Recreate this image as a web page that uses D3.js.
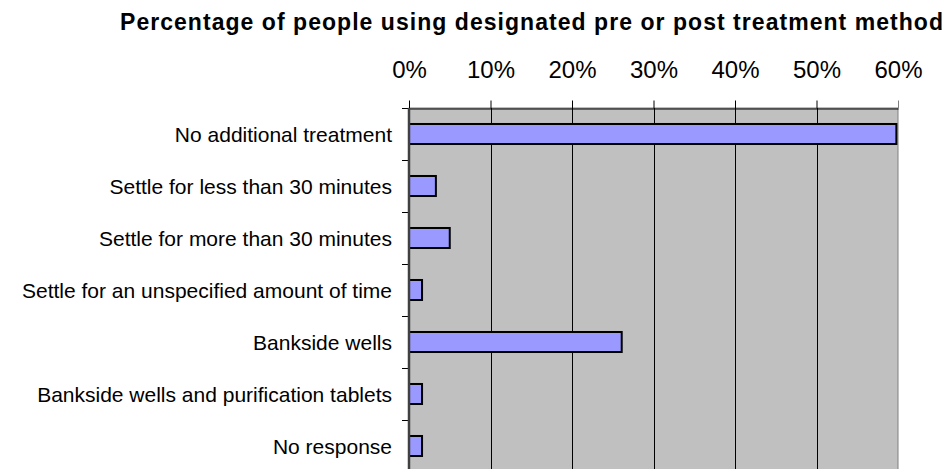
<!DOCTYPE html>
<html>
<head>
<meta charset="utf-8">
<script src="https://cdn.jsdelivr.net/npm/d3@7"></script>
<style>
  html, body { margin: 0; padding: 0; background: #ffffff; }
  svg { display: block; font-family: Arial, "Liberation Sans", sans-serif; }
</style>
</head>
<body>
<svg id="chart" width="946" height="469"></svg>
<script>
// Treatment methods and share of respondents (%)
const categories = [
  "No additional treatment",
  "Settle for less than 30 minutes",
  "Settle for more than 30 minutes",
  "Settle for an unspecified amount of time",
  "Bankside wells",
  "Bankside wells and purification tablets",
  "No response"
];
const percentages = [59.8, 3.3, 5.0, 1.6, 26.1, 1.6, 1.6];
const tickValues = [0, 10, 20, 30, 40, 50, 60];
const titleText = "Percentage of people using designated pre or post treatment method";

const svg = d3.select("#chart");

const plot = { left: 409, right: 898, top: 108, band: 52 };
const plotBottom = plot.top + plot.band * categories.length;

const x = d3.scaleLinear().domain([0, 60]).range([plot.left, plot.right]);
const y = d3.scaleBand()
  .domain(categories)
  .range([plot.top, plotBottom])
  .paddingInner(0.615)
  .paddingOuter(0.3075);

// Title
svg.append("text")
  .attr("x", 120)
  .attr("y", 29.5)
  .attr("font-size", 23)
  .attr("font-weight", "bold")
  .attr("textLength", 823)
  .attr("lengthAdjust", "spacing")
  .attr("fill", "#000")
  .text(titleText);

// Plot background
svg.append("rect")
  .attr("x", plot.left)
  .attr("y", plot.top)
  .attr("width", plot.right - plot.left)
  .attr("height", plotBottom - plot.top)
  .attr("fill", "#c0c0c0")
  .attr("stroke", "#808080")
  .attr("stroke-width", 1);

// Vertical gridlines
svg.append("g")
  .selectAll("line")
  .data(tickValues.filter(d => d > 0 && d < 60))
  .join("line")
  .attr("x1", d => Math.round(x(d)) + 0.5)
  .attr("x2", d => Math.round(x(d)) + 0.5)
  .attr("y1", plot.top)
  .attr("y2", plotBottom)
  .attr("stroke", "#000")
  .attr("stroke-width", 1);

// Top value axis
const xAxis = d3.axisTop(x)
  .tickValues(tickValues)
  .tickFormat(d => d + "%")
  .tickSizeInner(8)
  .tickSizeOuter(0)
  .tickPadding(23);

const gx = svg.append("g")
  .attr("transform", `translate(0,${plot.top + 0.5})`)
  .call(xAxis);
gx.select(".domain").attr("stroke", "#000").attr("stroke-width", 1);
gx.selectAll(".tick line").attr("stroke", "#000");
gx.selectAll(".tick").filter(d => d === 60).select("line").attr("stroke", "#808080");
gx.selectAll(".tick text")
  .attr("font-size", 24)
  .attr("fill", "#000")
  .attr("font-family", "Arial, 'Liberation Sans', sans-serif");

// Left category axis: tick marks on band boundaries
const boundaries = d3.range(categories.length + 1).map(i => plot.top + i * plot.band);
svg.append("g")
  .selectAll("line")
  .data(boundaries)
  .join("line")
  .attr("x1", plot.left - 7)
  .attr("x2", plot.left)
  .attr("y1", d => d + 0.5)
  .attr("y2", d => d + 0.5)
  .attr("stroke", "#000")
  .attr("stroke-width", 1);

// Bars
svg.append("g")
  .selectAll("rect")
  .data(categories)
  .join("rect")
  .attr("x", x(0))
  .attr("y", d => y(d))
  .attr("width", (d, i) => x(percentages[i]) - x(0))
  .attr("height", y.bandwidth())
  .attr("fill", "#9999ff")
  .attr("stroke", "#000")
  .attr("stroke-width", 2);

// Left axis line
svg.append("line")
  .attr("x1", plot.left)
  .attr("x2", plot.left)
  .attr("y1", plot.top)
  .attr("y2", plotBottom)
  .attr("stroke", "#404040")
  .attr("stroke-width", 2.5);

// Category labels
svg.append("g")
  .selectAll("text")
  .data(categories)
  .join("text")
  .attr("x", 392)
  .attr("y", d => y(d) + y.bandwidth() / 2 + 1)
  .attr("dy", "0.35em")
  .attr("text-anchor", "end")
  .attr("font-size", 21)
  .attr("fill", "#000")
  .text(d => d);
</script>
</body>
</html>
